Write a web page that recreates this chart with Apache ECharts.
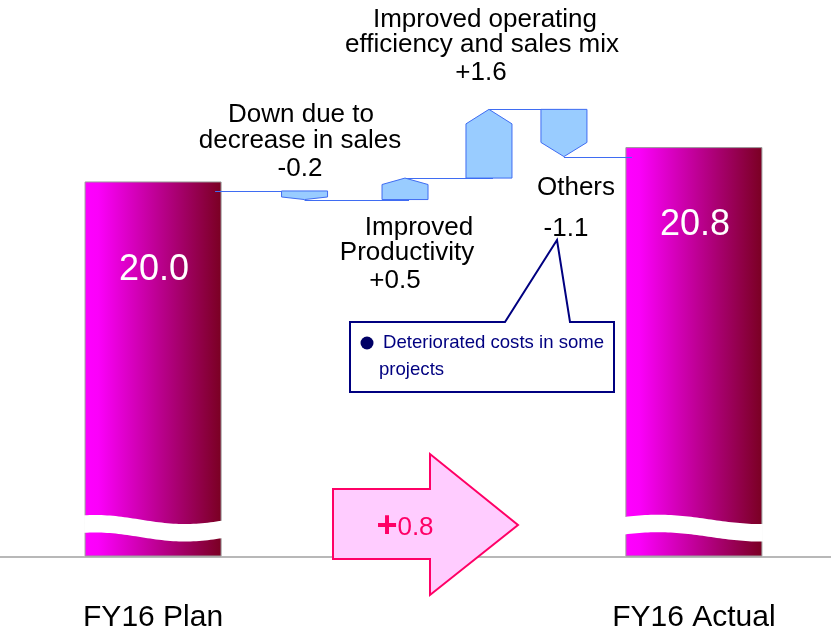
<!DOCTYPE html>
<html><head><meta charset="utf-8">
<script src="https://cdn.jsdelivr.net/npm/echarts@6/dist/echarts.min.js"></script>
<style>html,body{margin:0;padding:0;background:#fff}#c{width:831px;height:633px}</style>
</head><body><div id="c"></div>
<script>
// ---------- data ----------
const categories = ['FY16 Plan', 'Down due to decrease in sales', 'Improved Productivity',
  'Improved operating efficiency and sales mix', 'Others', 'FY16 Actual'];
const planValue = 20.0;
const actualValue = 20.8;
const stepValues = [-0.2, 0.5, 1.6, -1.1];
const stepLabelLines = [['Down due to', 'decrease in sales'], ['Improved', 'Productivity'],
  ['Improved operating', 'efficiency and sales mix'], ['Others']];
const calloutLines = ['Deteriorated costs in some', 'projects'];
const axisMin = 11.5, axisMax = 24.4;

// ---------- layout / style ----------
const FONT = '"Liberation Sans", Arial, sans-serif';
const NUDGE = [0, 43.3, 35.6, 11.4, -21.8, 0];
const BW = 136, LIFT = 9, SW = 46;
const VALUE_DROP = [79, 68];
const WAVES = [
  { t0: 0.08, period: 1.3, mid: -36.5, amp: 4.5, band: 17.5 },
  { t0: 0.24, period: 1.5, mid: -36.6, amp: 4.7, band: 17.5 }
];
const ANNOT = [
  { lines: [[301, 115], [300, 140.5]], value: [300, 168.5] },
  { lines: [[419, 228], [407, 253]], value: [395, 281] },
  { lines: [[485, 19.5], [482, 44.5]], value: [481, 73] },
  { lines: [[576, 188]], value: [566, 229] }
];
const STEP_FILL = '#99ccff', STEP_LINE = '#3f6cf2';

// ---------- derived ----------
const barData = [[0, planValue], [categories.length - 1, actualValue]];
let run = planValue;
const stepData = stepValues.map((v, i) => { const s = run; run = +(run + v).toFixed(4); return [i + 1, s, run, v]; });
const levels = [planValue].concat(stepData.map(d => d[2]));
const connData = levels.map((lv, i) => [i, i + 1, lv]);
const fmt = v => (v > 0 ? '+' : '') + v.toFixed(1);

function renderBar(params, api) {
  const idx = api.value(0), val = api.value(1);
  const top = api.coord([idx, val]);
  const base = api.coord([idx, axisMin])[1];
  const cx = top[0];
  const L = cx - BW / 2, T = top[1] - LIFT;
  const w = WAVES[params.dataIndex];
  const tp = [], bp = [];
  for (let k = 0; k <= 48; k++) {
    const t = k / 48;
    const x = L - 1 + (BW + 2) * t;
    const y = base + w.mid - w.amp * Math.cos(2 * Math.PI * (t - w.t0) / w.period);
    tp.push([x, y]); bp.push([x, y + w.band]);
  }
  return { type: 'group', children: [
    { type: 'rect', shape: { x: L, y: T, width: BW, height: base - T },
      style: { fill: new echarts.graphic.LinearGradient(0, 0, 1, 0, [
        { offset: 0, color: '#ff00ff' }, { offset: 0.1, color: '#fb00fa' }, { offset: 1, color: '#7a0022' }]),
        stroke: '#9a9a9a', lineWidth: 1 } },
    { type: 'polygon', shape: { points: tp.concat(bp.reverse()) }, style: { fill: '#ffffff' } },
    { type: 'text', x: cx + 1, y: top[1] + VALUE_DROP[params.dataIndex],
      style: { text: val.toFixed(1), fill: '#ffffff', fontSize: 36, fontFamily: FONT, align: 'center', verticalAlign: 'middle' } }
  ] };
}

function renderStep(params, api) {
  const idx = api.value(0), s = api.value(1), e = api.value(2);
  const ps = api.coord([idx, s]), pe = api.coord([idx, e]);
  const cx = ps[0] + NUDGE[idx];
  const ys = ps[1], ye = pe[1];
  const h = Math.abs(ys - ye);
  const tip = Math.min(0.3 * h, 14.5);
  const dir = ye < ys ? 1 : -1;
  const sh = ye + dir * tip;
  const L = cx - SW / 2, R = cx + SW / 2;
  return { type: 'polygon', shape: { points: [[L, ys], [R, ys], [R, sh], [cx, ye], [L, sh]] },
    style: { fill: STEP_FILL, stroke: STEP_LINE, lineWidth: 1 } };
}

function renderConn(params, api) {
  const f = api.value(0), t = api.value(1), lv = api.value(2);
  const pf = api.coord([f, lv]), pt = api.coord([t, lv]);
  const fx = pf[0] + NUDGE[f], tx = pt[0] + NUDGE[t];
  const last = categories.length - 1;
  const x1 = f === 0 ? fx + BW / 2 - 6 : fx;
  const x2 = t === last ? tx - BW / 2 + 6 : (f === 0 ? tx + SW / 2 : tx + 4);
  const y = Math.round(pf[1]) + 0.5;
  return { type: 'line', shape: { x1: x1, y1: y, x2: x2, y2: y }, style: { stroke: STEP_LINE, lineWidth: 1 } };
}

// ---------- annotations ----------
const graphics = [];
function txt(x, y, text, size, color, align) {
  return { type: 'text', x: x, y: y, z: 100,
    style: { text: text, fill: color, fontSize: size, fontFamily: FONT, align: align || 'center', verticalAlign: 'middle' } };
}
stepLabelLines.forEach((lines, i) => {
  lines.forEach((ln, j) => graphics.push(txt(ANNOT[i].lines[j][0], ANNOT[i].lines[j][1], ln, 26, '#000')));
  graphics.push(txt(ANNOT[i].value[0], ANNOT[i].value[1], fmt(stepValues[i]), 26, '#000'));
});
// callout
graphics.push({ type: 'polygon', z: 90,
  shape: { points: [[350, 322], [505, 322], [557, 240], [570, 322], [614, 322], [614, 392], [350, 392]] },
  style: { fill: '#ffffff', stroke: '#000080', lineWidth: 2 } });
graphics.push({ type: 'circle', z: 100, shape: { cx: 367, cy: 343, r: 6.5 }, style: { fill: '#000066' } });
graphics.push(txt(383, 343, calloutLines[0], 18.6, '#000080', 'left'));
graphics.push(txt(379, 370, calloutLines[1], 18.6, '#000080', 'left'));
// difference arrow
graphics.push({ type: 'polygon', z: 90,
  shape: { points: [[333, 489], [430, 489], [430, 454], [518, 525], [430, 595], [430, 559], [333, 559]] },
  style: { fill: '#ffccff', stroke: '#ff0066', lineWidth: 2 } });
const diff = actualValue - planValue;
graphics.push({ type: 'text', x: 405, y: 527, z: 100,
  style: { text: '{a|' + (diff >= 0 ? '+' : '−') + '}{b|' + Math.abs(diff).toFixed(1) + '}',
    align: 'center', verticalAlign: 'middle',
    rich: { a: { fontSize: 36, fontWeight: 'bold', fill: '#ff0066', fontFamily: FONT },
            b: { fontSize: 26, fill: '#ff0066', fontFamily: FONT, padding: [2, 0, 0, 0] } } } });

const chart = echarts.init(document.getElementById('c'), null, { renderer: 'canvas' });
chart.setOption({
  animation: false,
  backgroundColor: '#ffffff',
  grid: [
    { left: 99, right: 83, top: 2, bottom: 76 },
    { left: 0, right: 0, top: 2, bottom: 76 }
  ],
  xAxis: [
    { type: 'category', gridIndex: 0, data: categories,
      axisLine: { show: false }, axisTick: { show: false },
      axisLabel: { interval: 0, margin: 62, fontSize: 30, color: '#000', fontFamily: FONT, verticalAlign: 'middle',
        formatter: (v, i) => (i === 0 || i === categories.length - 1) ? v : '' } },
    { type: 'value', gridIndex: 1, min: 0, max: 1,
      axisLine: { show: true, onZero: false, lineStyle: { color: '#a0a0a0', width: 1.5 } },
      axisTick: { show: false }, axisLabel: { show: false }, splitLine: { show: false } }
  ],
  yAxis: [
    { type: 'value', gridIndex: 0, min: axisMin, max: axisMax, show: false },
    { type: 'value', gridIndex: 1, min: 0, max: 1, show: false }
  ],
  series: [
    { type: 'custom', name: 'Connectors', xAxisIndex: 0, yAxisIndex: 0, renderItem: renderConn,
      data: connData, encode: { x: 0, y: 2 }, z: 3 },
    { type: 'custom', name: 'Totals', xAxisIndex: 0, yAxisIndex: 0, renderItem: renderBar,
      data: barData, encode: { x: 0, y: 1 }, z: 2 },
    { type: 'custom', name: 'Changes', xAxisIndex: 0, yAxisIndex: 0, renderItem: renderStep,
      data: stepData, encode: { x: 0, y: [1, 2] }, z: 4 }
  ],
  graphic: graphics
});
</script></body></html>
